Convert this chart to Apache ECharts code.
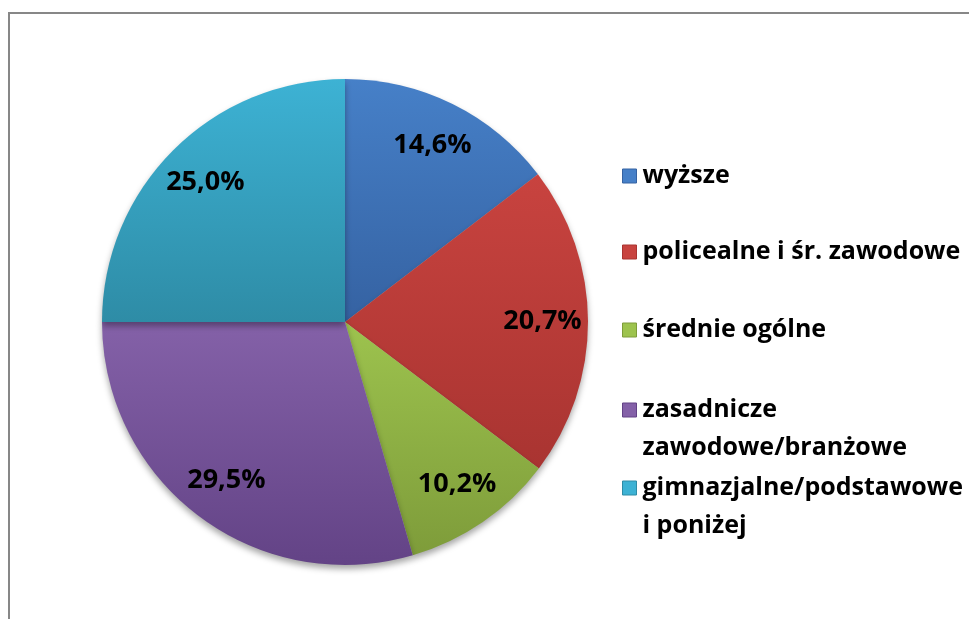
<!DOCTYPE html>
<html lang="pl">

<head>
    <meta charset="UTF-8">
    <title>Wykształcenie</title>
    <script src="https://cdn.jsdelivr.net/npm/echarts@6.0.0/dist/echarts.min.js"></script>
</head>

<body style="margin:0;background:#fff">

    <div id="main" style="width: 969px;height:619px;"></div>

    <script type="text/javascript">
        // dane
        const kategorie = ['wyższe', 'policealne i śr. zawodowe', 'średnie ogólne', 'zasadnicze zawodowe/branżowe', 'gimnazjalne/podstawowe i poniżej'];
        const wartosci = [14.6, 20.7, 10.2, 29.5, 25.0];
        const etykietyLegendy = ['wyższe', 'policealne i śr. zawodowe', 'średnie ogólne', 'zasadnicze\nzawodowe/branżowe', 'gimnazjalne/podstawowe\ni poniżej'];
        const koloryGora = ['#4680c8', '#c8433f', '#9dc34e', '#8461a8', '#3db2d4'];
        const koloryDol = ['#3562a2', '#a93431', '#7e9c3a', '#634386', '#2e8ca6'];

        const font = '"Open Sans", Lato, sans-serif';
        const srodek = [345, 322];
        const promien = 243;
        const wysLinii = 38;

        function gradient(i) {
            return new echarts.graphic.LinearGradient(0, 0, 0, 1, [
                { offset: 0, color: koloryGora[i] },
                { offset: 1, color: koloryDol[i] }
            ]);
        }

        const dane = kategorie.map((nazwa, i) => ({
            name: nazwa,
            value: wartosci[i],
            itemStyle: { color: gradient(i) }
        }));

        // osobna legenda dla kazdej pozycji (rowne odstepy jak w Excelu)
        // przy dwoch liniach ikona jest wyzsza, a kwadrat rysowany tylko u gory
        const legendaTop = [157, 233, 311, 391, 469];
        const legendy = kategorie.map((nazwa, i) => {
            const dwieLinie = etykietyLegendy[i].indexOf('\n') >= 0;
            const h = dwieLinie ? 14 + wysLinii : 14;
            return {
                orient: 'vertical',
                left: 622,
                top: legendaTop[i],
                padding: 0,
                itemWidth: 14,
                itemHeight: h,
                itemGap: 0,
                icon: dwieLinie ? 'path://M0 0H14V14H0Z M14 ' + h + 'L14 ' + h : 'rect',
                selectedMode: false,
                data: [{ name: nazwa, itemStyle: { color: koloryGora[i], borderColor: koloryDol[i], borderWidth: 1 } }],
                formatter: () => etykietyLegendy[i],
                textStyle: {
                    fontFamily: font,
                    fontWeight: 'bold',
                    fontSize: 25,
                    color: '#000',
                    lineHeight: wysLinii,
                    padding: [0, 0, 0, 1]
                }
            };
        });

        var wykres = echarts.init(document.getElementById('main'));

        var option = {
            animation: false,
            graphic: [{
                type: 'rect',
                shape: { x: 9, y: 13, width: 1000, height: 700 },
                style: { fill: null, stroke: '#878787', lineWidth: 2 }
            }],
            legend: legendy,
            series: [
                {
                    name: 'Wykształcenie',
                    type: 'pie',
                    center: srodek,
                    radius: promien,
                    startAngle: 90,
                    clockwise: true,
                    data: dane,
                    label: { show: false },
                    labelLine: { show: false },
                    itemStyle: {
                        shadowBlur: 6,
                        shadowOffsetY: 4,
                        shadowColor: 'rgba(0,0,0,0.35)'
                    }
                },
                {
                    // tylko etykiety procentowe
                    name: 'etykiety',
                    type: 'pie',
                    center: srodek,
                    radius: [146, promien],
                    startAngle: 90,
                    clockwise: true,
                    silent: true,
                    data: kategorie.map((nazwa, i) => ({ name: nazwa, value: wartosci[i] })),
                    itemStyle: { color: 'rgba(0,0,0,0)' },
                    label: {
                        show: true,
                        position: 'inside',
                        formatter: p => p.value.toFixed(1).replace('.', ',') + '%',
                        fontFamily: font,
                        fontWeight: 'bold',
                        fontSize: 27,
                        color: '#000'
                    },
                    labelLine: { show: false }
                }
            ]
        };

        wykres.setOption(option);
    </script>
</body>

</html>
